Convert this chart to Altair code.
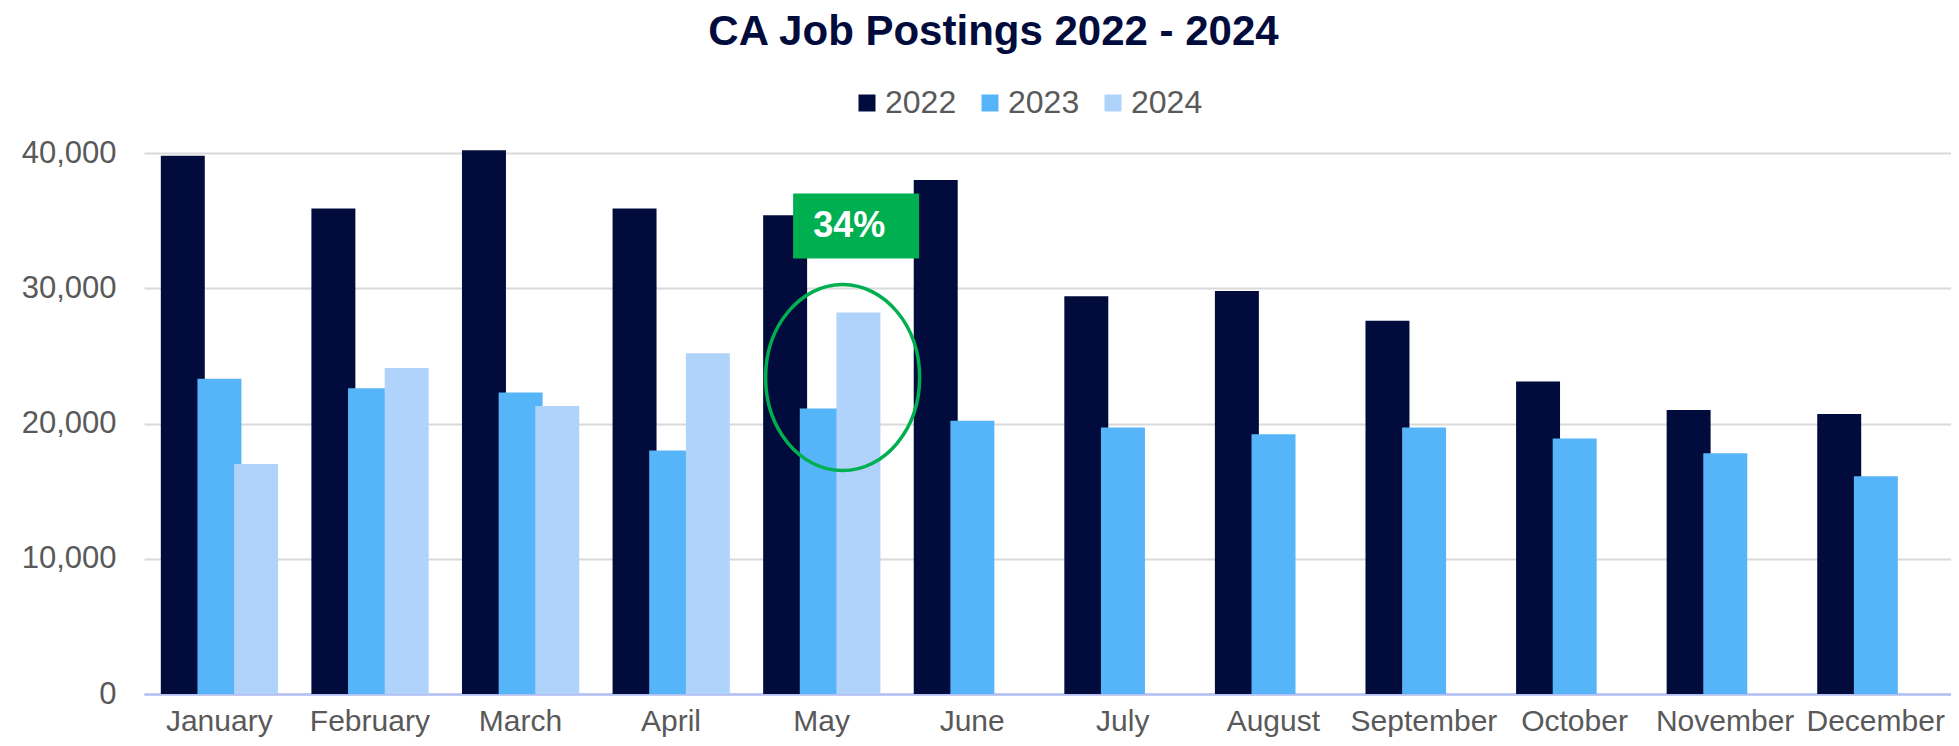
import altair as alt
import pandas as pd

months = ["January", "February", "March", "April", "May", "June", "July",
          "August", "September", "October", "November", "December"]
years = ["2022", "2023", "2024"]
postings_2022 = [39800, 35900, 40200, 35900, 35400, 38000, 29400, 29800, 27600, 23100, 21000, 20700]
postings_2023 = [23300, 22600, 22300, 18000, 21100, 20200, 19700, 19200, 19700, 18900, 17800, 16100]
postings_2024 = [17000, 24100, 21300, 25200, 28200]
colors = ["#020c3c", "#56b4f8", "#afd3fa"]
y_ticks = [0, 10000, 20000, 30000, 40000]

note_text = "34%"
note_month = "May"
note_year = "2024"
note_box_top = 37000
note_box_bottom = 32200
note_text_value = 34600
ellipse_value = 23400

FONT = "Liberation Sans"
GRAY = "#595959"
GREEN = "#00b050"

rows = []
for yr, vals in zip(years, [postings_2022, postings_2023, postings_2024]):
    for m, v in zip(months, vals):
        rows.append({"month": m, "year": yr, "postings": v})
df = pd.DataFrame(rows)

note_df = pd.DataFrame([{"month": note_month, "year": note_year, "top": note_box_top,
                         "bottom": note_box_bottom, "tv": note_text_value, "label": note_text}])
ell_df = pd.DataFrame([{"month": note_month, "v": ellipse_value}])

x_enc = alt.X("month:N", sort=months,
              scale=alt.Scale(domain=months, paddingInner=0.27, paddingOuter=0.135, align=0.684),
              axis=alt.Axis(title=None, labelAngle=0, ticks=False, grid=False,
                            domainColor="#b4c0f5", domainWidth=2.5,
                            labelFontSize=30, labelColor=GRAY, labelFont=FONT,
                            labelPadding=12, labelOffset=-7.5))
xo_enc = alt.XOffset("year:N", sort=years,
                     scale=alt.Scale(domain=years, paddingInner=0, paddingOuter=0))

bars = alt.Chart(df).mark_bar(width=alt.RelativeBandSize(1.2)).encode(
    x=x_enc,
    xOffset=xo_enc,
    y=alt.Y("postings:Q",
            scale=alt.Scale(domain=[0, 40000], nice=False),
            axis=alt.Axis(title=None, values=y_ticks, format=",d", domain=False, ticks=False,
                          gridColor="#d9d9d9", gridWidth=2,
                          labelFontSize=31, labelColor=GRAY, labelFont=FONT,
                          labelPadding=28)),
    color=alt.Color("year:N", sort=years,
                    scale=alt.Scale(domain=years, range=colors),
                    legend=alt.Legend(title=None, orient="none", legendX=707, legendY=-66,
                                      direction="horizontal", symbolType="square",
                                      symbolSize=289, symbolStrokeWidth=0, symbolOpacity=1,
                                      labelFontSize=32, labelColor=GRAY, labelFont=FONT,
                                      columnPadding=17, labelOffset=2)),
)

box = alt.Chart(note_df).mark_bar(width=126, color=GREEN, xOffset=27).encode(
    x=alt.X("month:N", sort=months),
    y="top:Q",
    y2="bottom:Q",
)

box_text = alt.Chart(note_df).mark_text(font=FONT, fontSize=36, fontWeight="bold",
                                        color="white", baseline="middle", dx=-16.5).encode(
    x=alt.X("month:N", sort=months),
    xOffset=alt.XOffset("year:N", sort=years),
    y="tv:Q",
    text="label:N",
)

ellipse_path = "M -0.828 0 A 0.828 1 0 1 1 0.828 0 A 0.828 1 0 1 1 -0.828 0 Z"
ellipse = alt.Chart(ell_df).mark_point(shape=ellipse_path, size=34596, filled=False,
                                       color=GREEN, strokeWidth=3.5, opacity=1,
                                       xOffset=13.5).encode(
    x=alt.X("month:N", sort=months),
    y="v:Q",
)

chart = alt.layer(bars, box, box_text, ellipse).properties(
    width=1807,
    height=541,
    padding={"left": 136, "top": 145, "right": 0, "bottom": 44},
    autosize=alt.AutoSizeParams(type="none"),
    title=alt.TitleParams("CA Job Postings 2022 - 2024", fontSize=42, font=FONT,
                          fontWeight="bold", color="#020c3c", anchor="middle",
                          dx=-54, offset=33),
).configure_view(stroke=None)

chart.save("out.html", embed_options={"renderer": "svg", "actions": False})
